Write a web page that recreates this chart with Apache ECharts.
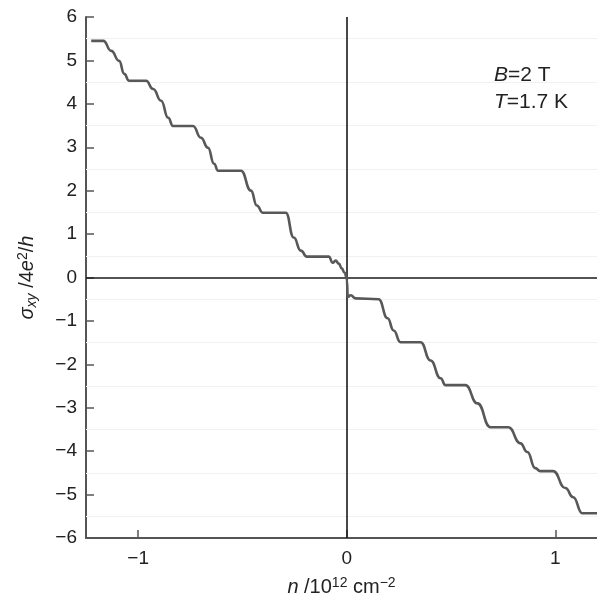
<!DOCTYPE html>
<html>
<head>
<meta charset="utf-8">
<script src="https://cdn.jsdelivr.net/npm/echarts@6/dist/echarts.min.js"></script>
<style>
html,body{margin:0;padding:0;background:#fff;}
#chart{width:597px;height:606px;}
</style>
</head>
<body>
<div id="chart"></div>
<script>
// carrier density n (10^12 cm^-2)
var densityN = [
  -1.225, -1.167, -1.129, -1.091, -1.067, -1.043, -0.962, -0.928, -0.890, -0.856,
  -0.833, -0.737, -0.699, -0.665, -0.636, -0.617, -0.507, -0.459, -0.431, -0.402,
  -0.292, -0.254, -0.220, -0.191, -0.086, -0.067, -0.053, -0.038, -0.024, -0.010,
  0.000, 0.001, 0.005, 0.019, 0.043, 0.153, 0.196, 0.225, 0.258, 0.354,
  0.402, 0.450, 0.474, 0.569, 0.627, 0.689, 0.775, 0.833, 0.866, 0.904,
  0.928, 0.990, 1.048, 1.086, 1.129, 1.201
];
// Hall conductivity sigma_xy (units of 4e^2/h)
var sigmaXY = [
  5.45, 5.45, 5.22, 4.99, 4.69, 4.53, 4.53, 4.34, 4.07, 3.68,
  3.49, 3.49, 3.22, 2.99, 2.62, 2.46, 2.46, 2.00, 1.66, 1.49,
  1.49, 0.92, 0.62, 0.48, 0.48, 0.34, 0.39, 0.32, 0.21, 0.11,
  0.00, -0.07, -0.45, -0.41, -0.48, -0.50, -0.94, -1.22, -1.49, -1.49,
  -1.91, -2.32, -2.48, -2.48, -2.90, -3.45, -3.45, -3.82, -4.02, -4.39,
  -4.46, -4.46, -4.85, -5.06, -5.43, -5.43
];
var xTicks = [-1, 0, 1];
var plateauLevels = [5.5, 4.5, 3.5, 2.5, 1.5, 0.5, -0.5, -1.5, -2.5, -3.5, -4.5, -5.5];

var curve = densityN.map(function (x, i) { return [x, sigmaXY[i]]; });

var chart = echarts.init(document.getElementById('chart'));
var FONT = 'Liberation Sans, Arial, Helvetica, sans-serif';
var axisColor = '#555';
var txt = '#222';

var faintLines = plateauLevels.map(function (v) { return { yAxis: v }; });
var minusFmt = function (v) { return v < 0 ? '\u2212' + Math.abs(v) : String(v); };

chart.setOption({
  animation: false,
  backgroundColor: '#fff',
  grid: { left: 86, right: 0, top: 17, bottom: 68, containLabel: false },
  xAxis: {
    type: 'value',
    min: -1.25,
    max: 1.2,
    splitLine: { show: false },
    axisLine: { show: true, onZero: false, lineStyle: { color: axisColor, width: 2 } },
    axisTick: { show: true, inside: true, length: 8, customValues: xTicks, lineStyle: { color: axisColor, width: 1.5 } },
    axisLabel: {
      customValues: xTicks,
      margin: 11,
      color: txt,
      fontSize: 19,
      fontFamily: FONT,
      formatter: minusFmt
    },
    name: '{i|n} /10{sup|12} cm{sup|\u22122}',
    nameLocation: 'middle',
    nameGap: 38,
    nameTextStyle: {
      color: txt,
      fontSize: 20,
      fontFamily: FONT,
      rich: {
        i: { fontStyle: 'italic', fontSize: 20, fontFamily: FONT, color: txt },
        sup: { fontSize: 14, fontFamily: FONT, color: txt, padding: [0, 0, 9, 0] }
      }
    }
  },
  yAxis: {
    type: 'value',
    min: -6,
    max: 6,
    interval: 1,
    splitLine: { show: false },
    axisLine: { show: true, onZero: false, lineStyle: { color: axisColor, width: 2 } },
    axisTick: { show: true, inside: true, length: 8, lineStyle: { color: axisColor, width: 1.5 } },
    axisLabel: {
      margin: 9,
      color: txt,
      fontSize: 19,
      fontFamily: FONT,
      formatter: minusFmt
    },
    name: '{i|\u03c3}{sub|xy} /4{i|e}{sup|2}/{i|h}',
    nameLocation: 'middle',
    nameRotate: 90,
    nameGap: 47,
    nameTextStyle: {
      color: txt,
      fontSize: 20,
      fontFamily: FONT,
      rich: {
        i: { fontStyle: 'italic', fontSize: 20, fontFamily: FONT, color: txt },
        sub: { fontStyle: 'italic', fontSize: 14, fontFamily: FONT, color: txt, padding: [9, 0, 0, 0] },
        sup: { fontSize: 14, fontFamily: FONT, color: txt, padding: [0, 0, 9, 0] }
      }
    }
  },
  graphic: [
    {
      type: 'text', left: 494, top: 65,
      style: {
        text: '{i|B}=2 T',
        fill: txt, fontSize: 21, fontFamily: FONT,
        rich: { i: { fontStyle: 'italic', fontSize: 21, fontFamily: FONT, fill: txt } }
      }
    },
    {
      type: 'text', left: 494, top: 92,
      style: {
        text: '{i|T}=1.7 K',
        fill: txt, fontSize: 21, fontFamily: FONT,
        rich: { i: { fontStyle: 'italic', fontSize: 21, fontFamily: FONT, fill: txt } }
      }
    }
  ],
  series: [
    {
      type: 'line',
      data: [],
      silent: true,
      markLine: {
        silent: true,
        symbol: 'none',
        label: { show: false },
        lineStyle: { color: '#f1f1f1', width: 1.2, type: 'solid' },
        data: faintLines
      }
    },
    {
      type: 'line',
      data: [],
      silent: true,
      markLine: {
        silent: true,
        symbol: 'none',
        label: { show: false },
        lineStyle: { color: '#1a1a1a', width: 1.6, type: 'solid' },
        data: [{ yAxis: 0 }, { xAxis: 0 }]
      }
    },
    {
      type: 'line',
      data: curve,
      showSymbol: false,
      smooth: 0.5,
      smoothMonotone: 'x',
      lineStyle: { color: '#585858', width: 2.6 },
      z: 5
    }
  ]
});
</script>
</body>
</html>
